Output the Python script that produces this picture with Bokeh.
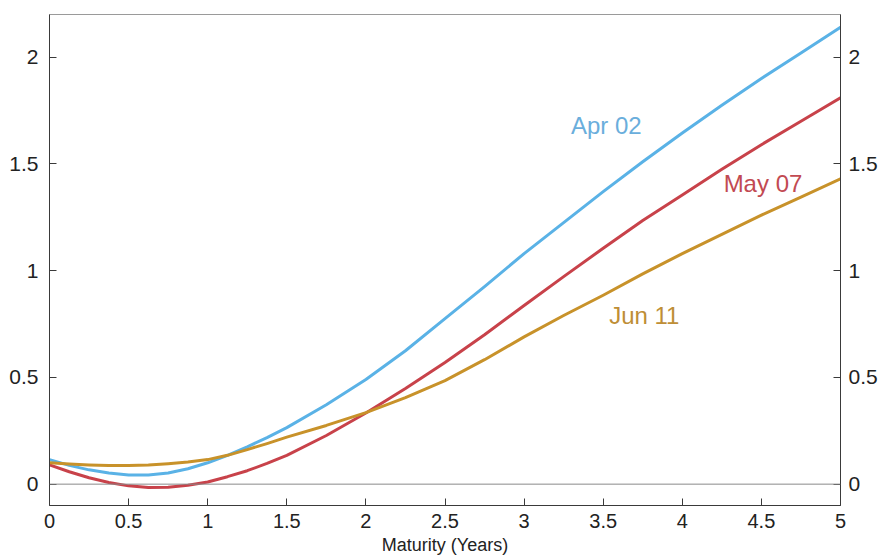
from bokeh.plotting import figure
from bokeh.models import LinearAxis, FixedTicker, Span, Range1d, Label
from bokeh.embed import file_html
from bokeh.resources import INLINE

# ---- data ----
maturity = [0, 0.125, 0.25, 0.375, 0.5, 0.625, 0.75, 0.875, 1.0, 1.125, 1.25, 1.375, 1.5,
            1.75, 2.0, 2.25, 2.5, 2.75, 3.0, 3.25, 3.5, 3.75, 4.0, 4.25, 4.5, 4.75, 5.0]
apr02 = [0.115, 0.088, 0.067, 0.052, 0.043, 0.043, 0.052, 0.072, 0.10, 0.135, 0.175, 0.218, 0.265,
         0.372, 0.49, 0.625, 0.775, 0.925, 1.08, 1.225, 1.37, 1.51, 1.645, 1.775, 1.90, 2.02, 2.14]
may07 = [0.09, 0.058, 0.03, 0.008, -0.008, -0.016, -0.014, -0.005, 0.01, 0.035, 0.063, 0.097, 0.135,
         0.228, 0.333, 0.448, 0.57, 0.70, 0.837, 0.972, 1.105, 1.235, 1.355, 1.475, 1.59, 1.70, 1.81]
jun11 = [0.10, 0.094, 0.09, 0.087, 0.087, 0.09, 0.096, 0.104, 0.115, 0.135, 0.162, 0.19, 0.22,
         0.275, 0.335, 0.405, 0.485, 0.583, 0.69, 0.79, 0.885, 0.985, 1.08, 1.17, 1.26, 1.345, 1.43]

series_names = ["Apr 02", "May 07", "Jun 11"]
label_x = [3.52, 4.51, 3.76]
label_y = [1.68, 1.41, 0.79]

x_title = "Maturity (Years)"
x_ticks = [0, 0.5, 1, 1.5, 2, 2.5, 3, 3.5, 4, 4.5, 5]
x_tick_labels = ["0", "0.5", "1", "1.5", "2", "2.5", "3", "3.5", "4", "4.5", "5"]
y_ticks = [0, 0.5, 1, 1.5, 2]
y_tick_labels = ["0", "0.5", "1", "1.5", "2"]

line_colors = ["#5AB2E6", "#C8424A", "#C8922A"]
text_colors = ["#6AAEDC", "#C24A52", "#BE8E36"]

AXIS_COLOR = "#3a3a3a"
FONT = "Liberation Sans"

p = figure(width=882, height=557, output_backend="svg", toolbar_location=None,
           x_range=Range1d(0, 5), y_range=Range1d(-0.1, 2.2),
           min_border_left=49, min_border_right=42, min_border_top=14, min_border_bottom=51)
p.outline_line_color = "#9a9a9a"
p.outline_line_width = 1
p.xgrid.visible = False
p.ygrid.visible = False
p.background_fill_color = "white"
p.border_fill_color = "white"

p.add_layout(Span(location=0, dimension="width", line_color="#8a8a8a", line_width=1))

for ys, col in zip([apr02, may07, jun11], line_colors):
    p.line(maturity, ys, line_color=col, line_width=3, line_join="round", line_cap="round")

for name, lx, ly, tc in zip(series_names, label_x, label_y, text_colors):
    p.add_layout(Label(x=lx, y=ly, text=name, text_color=tc, text_font=FONT,
                       text_font_size="24px", text_align="center", text_baseline="middle"))

# x axis
xa = p.xaxis[0]
xa.ticker = FixedTicker(ticks=x_ticks)
xa.major_label_overrides = {t: l for t, l in zip(x_ticks, x_tick_labels)}
xa.minor_tick_line_color = None
xa.major_tick_in = 7
xa.major_tick_out = 0
xa.axis_line_color = AXIS_COLOR
xa.major_tick_line_color = AXIS_COLOR
xa.major_label_text_font = FONT
xa.major_label_text_font_size = "20px"
xa.major_label_text_color = "#222222"
xa.major_label_standoff = 8
xa.axis_label = x_title
xa.axis_label_text_font = FONT
xa.axis_label_text_font_style = "normal"
xa.axis_label_text_font_size = "18px"
xa.axis_label_text_color = "#222222"
xa.axis_label_standoff = 4

# left y axis
ya = p.yaxis[0]
ya.ticker = FixedTicker(ticks=y_ticks)
ya.major_label_overrides = {t: l for t, l in zip(y_ticks, y_tick_labels)}
ya.minor_tick_line_color = None
ya.major_tick_in = 7
ya.major_tick_out = 0
ya.axis_line_color = AXIS_COLOR
ya.major_tick_line_color = AXIS_COLOR
ya.major_label_text_font = FONT
ya.major_label_text_font_size = "21px"
ya.major_label_text_color = "#222222"
ya.major_label_standoff = 11

# right y axis
ra = LinearAxis(ticker=FixedTicker(ticks=y_ticks))
ra.major_label_overrides = {t: l for t, l in zip(y_ticks, y_tick_labels)}
ra.minor_tick_line_color = None
ra.major_tick_in = 7
ra.major_tick_out = 0
ra.axis_line_color = AXIS_COLOR
ra.major_tick_line_color = AXIS_COLOR
ra.major_label_text_font = FONT
ra.major_label_text_font_size = "21px"
ra.major_label_text_color = "#222222"
ra.major_label_standoff = 8
p.add_layout(ra, "right")

open("out.html", "w").write(file_html(p, INLINE))
